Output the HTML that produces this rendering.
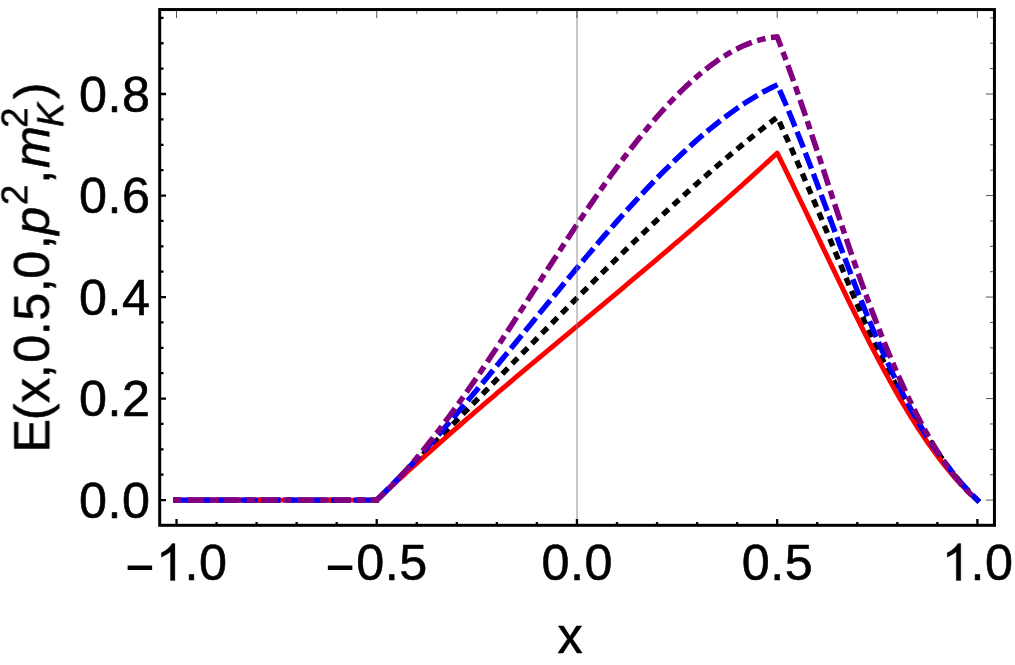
<!DOCTYPE html>
<html><head><meta charset="utf-8"><title>plot</title>
<style>html,body{margin:0;padding:0;background:#fff;overflow:hidden;}svg{display:block;}</style>
</head><body>
<svg width="1015" height="665" viewBox="0 0 1015 665">
<rect width="1015" height="665" fill="#fff"/>
<path d="M176.00 500.10 L376.70 500.10 L381.20 495.73 L385.70 491.35 L390.20 486.94 L394.70 482.53 L399.20 478.09 L403.70 473.65 L408.20 469.18 L412.70 464.71 L417.20 460.22 L421.70 455.73 L426.20 451.22 L430.70 446.69 L435.20 442.16 L439.70 437.62 L444.20 433.08 L448.70 428.52 L453.20 423.96 L457.70 419.39 L462.20 414.81 L466.70 410.23 L471.20 405.64 L475.70 401.05 L480.20 396.45 L484.70 391.86 L489.20 387.26 L493.70 382.65 L498.20 378.05 L502.70 373.45 L507.20 368.85 L511.70 364.24 L516.20 359.64 L520.70 355.05 L525.20 350.45 L529.70 345.86 L534.20 341.27 L538.70 336.69 L543.20 332.11 L547.70 327.54 L552.20 322.97 L556.70 318.42 L561.20 313.87 L565.70 309.32 L570.20 304.79 L574.70 300.27 L579.20 295.76 L583.70 291.26 L588.20 286.77 L592.70 282.29 L597.20 277.83 L601.70 273.38 L606.20 268.94 L610.70 264.52 L615.20 260.12 L619.70 255.73 L624.20 251.36 L628.70 247.00 L633.20 242.67 L637.70 238.35 L642.20 234.05 L646.70 229.77 L651.20 225.51 L655.70 221.28 L660.20 217.06 L664.70 212.87 L669.20 208.71 L673.70 204.56 L678.20 200.44 L682.70 196.35 L687.20 192.28 L691.70 188.23 L696.20 184.22 L700.70 180.23 L705.20 176.27 L709.70 172.34 L714.20 168.44 L718.70 164.57 L723.20 160.73 L727.70 156.92 L732.20 153.15 L736.70 149.40 L741.20 145.70 L745.70 142.02 L750.20 138.38 L754.70 134.77 L759.20 131.20 L763.70 127.67 L768.20 124.18 L772.70 120.72 L777.20 117.30 L780.10 123.55 L783.00 129.88 L785.90 136.27 L788.81 142.73 L791.71 149.25 L794.61 155.83 L797.51 162.46 L800.41 169.14 L803.31 175.87 L806.21 182.64 L809.12 189.45 L812.02 196.29 L814.92 203.17 L817.82 210.07 L820.72 217.00 L823.62 223.95 L826.52 230.91 L829.43 237.88 L832.33 244.87 L835.23 251.86 L838.13 258.85 L841.03 265.83 L843.93 272.81 L846.83 279.78 L849.74 286.74 L852.64 293.66 L855.54 300.54 L858.44 307.35 L861.34 314.08 L864.24 320.71 L867.14 327.21 L870.05 333.57 L872.95 339.79 L875.85 345.86 L878.75 351.79 L881.65 357.60 L884.55 363.29 L887.46 368.87 L890.36 374.35 L893.26 379.74 L896.16 385.05 L899.06 390.28 L901.96 395.43 L904.86 400.50 L907.77 405.50 L910.67 410.42 L913.57 415.25 L916.47 420.01 L919.37 424.70 L922.27 429.30 L925.17 433.82 L928.08 438.27 L930.98 442.64 L933.88 446.93 L936.78 451.14 L939.68 455.27 L942.58 459.32 L945.48 463.29 L948.39 467.18 L951.29 470.98 L954.19 474.69 L957.09 478.30 L959.99 481.79 L962.89 485.17 L965.79 488.43 L968.70 491.56 L971.60 494.55 L974.50 497.40 L977.40 500.10" fill="none" stroke="#000000" stroke-width="5.40" stroke-linecap="square" stroke-linejoin="round" stroke-miterlimit="10" stroke-dasharray="2.6 11.53"/>
<path d="M176.00 500.10 L376.70 500.10 L381.20 495.89 L385.70 491.70 L390.20 487.52 L394.70 483.37 L399.20 479.24 L403.70 475.12 L408.20 471.03 L412.70 466.95 L417.20 462.89 L421.70 458.84 L426.20 454.81 L430.70 450.80 L435.20 446.81 L439.70 442.82 L444.20 438.86 L448.70 434.90 L453.20 430.96 L457.70 427.04 L462.20 423.12 L466.70 419.22 L471.20 415.33 L475.70 411.45 L480.20 407.58 L484.70 403.73 L489.20 399.88 L493.70 396.04 L498.20 392.21 L502.70 388.39 L507.20 384.58 L511.70 380.77 L516.20 376.97 L520.70 373.18 L525.20 369.40 L529.70 365.62 L534.20 361.85 L538.70 358.08 L543.20 354.31 L547.70 350.55 L552.20 346.79 L556.70 343.04 L561.20 339.29 L565.70 335.54 L570.20 331.79 L574.70 328.04 L579.20 324.29 L583.70 320.55 L588.20 316.80 L592.70 313.05 L597.20 309.30 L601.70 305.55 L606.20 301.80 L610.70 298.05 L615.20 294.29 L619.70 290.53 L624.20 286.76 L628.70 282.99 L633.20 279.22 L637.70 275.44 L642.20 271.65 L646.70 267.86 L651.20 264.06 L655.70 260.26 L660.20 256.44 L664.70 252.62 L669.20 248.79 L673.70 244.95 L678.20 241.10 L682.70 237.24 L687.20 233.38 L691.70 229.50 L696.20 225.60 L700.70 221.70 L705.20 217.79 L709.70 213.86 L714.20 209.92 L718.70 205.96 L723.20 201.99 L727.70 198.01 L732.20 194.01 L736.70 190.00 L741.20 185.97 L745.70 181.92 L750.20 177.86 L754.70 173.78 L759.20 169.68 L763.70 165.56 L768.20 161.43 L772.70 157.27 L777.20 153.10 L780.10 158.91 L783.00 164.76 L785.90 170.65 L788.81 176.56 L791.71 182.51 L794.61 188.48 L797.51 194.47 L800.41 200.48 L803.31 206.51 L806.21 212.55 L809.12 218.61 L812.02 224.67 L814.92 230.74 L817.82 236.81 L820.72 242.89 L823.62 248.96 L826.52 255.03 L829.43 261.09 L832.33 267.13 L835.23 273.17 L838.13 279.19 L841.03 285.19 L843.93 291.17 L846.83 297.12 L849.74 303.05 L852.64 308.95 L855.54 314.82 L858.44 320.65 L861.34 326.44 L864.24 332.19 L867.14 337.90 L870.05 343.56 L872.95 349.17 L875.85 354.73 L878.75 360.24 L881.65 365.69 L884.55 371.07 L887.46 376.40 L890.36 381.66 L893.26 386.85 L896.16 391.97 L899.06 397.02 L901.96 401.98 L904.86 406.87 L907.77 411.68 L910.67 416.41 L913.57 421.06 L916.47 425.62 L919.37 430.10 L922.27 434.49 L925.17 438.80 L928.08 443.02 L930.98 447.15 L933.88 451.18 L936.78 455.13 L939.68 458.98 L942.58 462.74 L945.48 466.41 L948.39 469.97 L951.29 473.44 L954.19 476.82 L957.09 480.09 L959.99 483.26 L962.89 486.33 L965.79 489.29 L968.70 492.15 L971.60 494.91 L974.50 497.56 L977.40 500.10" fill="none" stroke="#ff0000" stroke-width="4.90" stroke-linecap="square" stroke-linejoin="round" stroke-miterlimit="10"/>
<path d="M176.00 500.10 L376.70 500.10 L381.20 495.73 L385.70 491.30 L390.20 486.79 L394.70 482.22 L399.20 477.59 L403.70 472.90 L408.20 468.14 L412.70 463.33 L417.20 458.47 L421.70 453.55 L426.20 448.59 L430.70 443.57 L435.20 438.51 L439.70 433.41 L444.20 428.26 L448.70 423.07 L453.20 417.85 L457.70 412.59 L462.20 407.30 L466.70 401.98 L471.20 396.63 L475.70 391.25 L480.20 385.85 L484.70 380.43 L489.20 374.99 L493.70 369.52 L498.20 364.05 L502.70 358.56 L507.20 353.06 L511.70 347.55 L516.20 342.03 L520.70 336.51 L525.20 330.99 L529.70 325.46 L534.20 319.94 L538.70 314.42 L543.20 308.91 L547.70 303.41 L552.20 297.92 L556.70 292.44 L561.20 286.97 L565.70 281.52 L570.20 276.10 L574.70 270.69 L579.20 265.31 L583.70 259.95 L588.20 254.62 L592.70 249.32 L597.20 244.05 L601.70 238.82 L606.20 233.62 L610.70 228.46 L615.20 223.35 L619.70 218.27 L624.20 213.25 L628.70 208.27 L633.20 203.34 L637.70 198.46 L642.20 193.63 L646.70 188.86 L651.20 184.15 L655.70 179.50 L660.20 174.92 L664.70 170.39 L669.20 165.94 L673.70 161.55 L678.20 157.24 L682.70 153.00 L687.20 148.83 L691.70 144.75 L696.20 140.74 L700.70 136.82 L705.20 132.98 L709.70 129.22 L714.20 125.56 L718.70 121.99 L723.20 118.51 L727.70 115.12 L732.20 111.83 L736.70 108.65 L741.20 105.56 L745.70 102.58 L750.20 99.70 L754.70 96.93 L759.20 94.28 L763.70 91.73 L768.20 89.30 L772.70 86.99 L777.20 84.80 L780.10 91.25 L783.00 97.85 L785.90 104.59 L788.81 111.47 L791.71 118.47 L794.61 125.59 L797.51 132.81 L800.41 140.13 L803.31 147.54 L806.21 155.04 L809.12 162.60 L812.02 170.23 L814.92 177.91 L817.82 185.64 L820.72 193.40 L823.62 201.20 L826.52 209.01 L829.43 216.84 L832.33 224.67 L835.23 232.49 L838.13 240.29 L841.03 248.06 L843.93 255.81 L846.83 263.50 L849.74 271.15 L852.64 278.73 L855.54 286.24 L858.44 293.66 L861.34 301.00 L864.24 308.24 L867.14 315.37 L870.05 322.40 L872.95 329.31 L875.85 336.11 L878.75 342.81 L881.65 349.39 L884.55 355.85 L887.46 362.20 L890.36 368.43 L893.26 374.55 L896.16 380.54 L899.06 386.42 L901.96 392.17 L904.86 397.80 L907.77 403.30 L910.67 408.68 L913.57 413.93 L916.47 419.06 L919.37 424.05 L922.27 428.91 L925.17 433.65 L928.08 438.25 L930.98 442.74 L933.88 447.10 L936.78 451.34 L939.68 455.47 L942.58 459.49 L945.48 463.40 L948.39 467.21 L951.29 470.91 L954.19 474.51 L957.09 478.02 L959.99 481.43 L962.89 484.75 L965.79 487.98 L968.70 491.13 L971.60 494.20 L974.50 497.19 L977.40 500.10" fill="none" stroke="#0000ff" stroke-width="5.40" stroke-linecap="square" stroke-linejoin="round" stroke-miterlimit="10" stroke-dasharray="11.7 10.85"/>
<path d="M176.00 500.10 L376.70 500.10 L381.20 495.95 L385.70 491.64 L390.20 487.17 L394.70 482.55 L399.20 477.79 L403.70 472.88 L408.20 467.84 L412.70 462.67 L417.20 457.37 L421.70 451.94 L426.20 446.40 L430.70 440.75 L435.20 434.98 L439.70 429.12 L444.20 423.15 L448.70 417.09 L453.20 410.94 L457.70 404.70 L462.20 398.38 L466.70 391.99 L471.20 385.52 L475.70 378.99 L480.20 372.39 L484.70 365.74 L489.20 359.04 L493.70 352.28 L498.20 345.49 L502.70 338.65 L507.20 331.78 L511.70 324.88 L516.20 317.96 L520.70 311.02 L525.20 304.06 L529.70 297.09 L534.20 290.11 L538.70 283.14 L543.20 276.17 L547.70 269.22 L552.20 262.27 L556.70 255.35 L561.20 248.46 L565.70 241.60 L570.20 234.77 L574.70 227.98 L579.20 221.24 L583.70 214.55 L588.20 207.92 L592.70 201.35 L597.20 194.84 L601.70 188.41 L606.20 182.05 L610.70 175.77 L615.20 169.58 L619.70 163.48 L624.20 157.47 L628.70 151.56 L633.20 145.74 L637.70 140.04 L642.20 134.44 L646.70 128.95 L651.20 123.58 L655.70 118.33 L660.20 113.21 L664.70 108.21 L669.20 103.35 L673.70 98.63 L678.20 94.04 L682.70 89.60 L687.20 85.31 L691.70 81.17 L696.20 77.19 L700.70 73.36 L705.20 69.71 L709.70 66.22 L714.20 62.90 L718.70 59.76 L723.20 56.80 L727.70 54.02 L732.20 51.44 L736.70 49.04 L741.20 46.84 L745.70 44.84 L750.20 43.05 L754.70 41.47 L759.20 40.09 L763.70 38.93 L768.20 38.00 L772.70 37.29 L777.20 36.80 L780.10 44.32 L783.00 52.01 L785.90 59.84 L788.81 67.81 L791.71 75.91 L794.61 84.13 L797.51 92.45 L800.41 100.87 L803.31 109.38 L806.21 117.97 L809.12 126.62 L812.02 135.33 L814.92 144.08 L817.82 152.87 L820.72 161.69 L823.62 170.52 L826.52 179.36 L829.43 188.19 L832.33 197.01 L835.23 205.80 L838.13 214.56 L841.03 223.27 L843.93 231.92 L846.83 240.51 L849.74 249.03 L852.64 257.45 L855.54 265.78 L858.44 274.01 L861.34 282.13 L864.24 290.15 L867.14 298.05 L870.05 305.84 L872.95 313.53 L875.85 321.09 L878.75 328.54 L881.65 335.88 L884.55 343.09 L887.46 350.18 L890.36 357.15 L893.26 363.99 L896.16 370.71 L899.06 377.30 L901.96 383.75 L904.86 390.08 L907.77 396.27 L910.67 402.33 L913.57 408.24 L916.47 414.02 L919.37 419.66 L922.27 425.16 L925.17 430.51 L928.08 435.71 L930.98 440.77 L933.88 445.68 L936.78 450.43 L939.68 455.03 L942.58 459.48 L945.48 463.77 L948.39 467.90 L951.29 471.87 L954.19 475.68 L957.09 479.33 L959.99 482.80 L962.89 486.12 L965.79 489.26 L968.70 492.23 L971.60 495.03 L974.50 497.65 L977.40 500.10" fill="none" stroke="#800080" stroke-width="5.50" stroke-linecap="square" stroke-linejoin="round" stroke-miterlimit="10" stroke-dasharray="3.1 11.08 11.4 11.08"/>
<line x1="577.05" y1="11.05" x2="577.05" y2="523.80" stroke="#808080" stroke-opacity="0.45" stroke-width="2"/>
<path d="M176.50 524.30 V519.10 M216.55 524.30 V521.90 M256.59 524.30 V521.90 M296.64 524.30 V521.90 M336.68 524.30 V521.90 M376.73 524.30 V519.10 M416.77 524.30 V521.90 M456.82 524.30 V521.90 M496.86 524.30 V521.90 M536.91 524.30 V521.90 M576.95 524.30 V519.10 M617.00 524.30 V521.90 M657.04 524.30 V521.90 M697.09 524.30 V521.90 M737.13 524.30 V521.90 M777.18 524.30 V519.10 M817.22 524.30 V521.90 M857.27 524.30 V521.90 M897.31 524.30 V521.90 M937.36 524.30 V521.90 M977.40 524.30 V519.10 M160.70 500.10 H166.00 M160.70 474.72 H163.50 M160.70 449.34 H163.50 M160.70 423.96 H163.50 M160.70 398.58 H166.00 M160.70 373.20 H163.50 M160.70 347.82 H163.50 M160.70 322.44 H163.50 M160.70 297.06 H166.00 M160.70 271.68 H163.50 M160.70 246.30 H163.50 M160.70 220.92 H163.50 M160.70 195.54 H166.00 M160.70 170.16 H163.50 M160.70 144.78 H163.50 M160.70 119.40 H163.50 M160.70 94.02 H166.00 M160.70 68.64 H163.50 M160.70 43.26 H163.50 M160.70 17.88 H163.50" fill="none" stroke="#000" stroke-width="2.3"/>
<path d="M176.50 11.05 V18.05 M216.55 11.05 V14.05 M256.59 11.05 V14.05 M296.64 11.05 V14.05 M336.68 11.05 V14.05 M376.73 11.05 V18.05 M416.77 11.05 V14.05 M456.82 11.05 V14.05 M496.86 11.05 V14.05 M536.91 11.05 V14.05 M576.95 11.05 V18.05 M617.00 11.05 V14.05 M657.04 11.05 V14.05 M697.09 11.05 V14.05 M737.13 11.05 V14.05 M777.18 11.05 V18.05 M817.22 11.05 V14.05 M857.27 11.05 V14.05 M897.31 11.05 V14.05 M937.36 11.05 V14.05 M977.40 11.05 V18.05 M992.95 500.10 H985.95 M992.95 474.72 H989.95 M992.95 449.34 H989.95 M992.95 423.96 H989.95 M992.95 398.58 H985.95 M992.95 373.20 H989.95 M992.95 347.82 H989.95 M992.95 322.44 H989.95 M992.95 297.06 H985.95 M992.95 271.68 H989.95 M992.95 246.30 H989.95 M992.95 220.92 H989.95 M992.95 195.54 H985.95 M992.95 170.16 H989.95 M992.95 144.78 H989.95 M992.95 119.40 H989.95 M992.95 94.02 H985.95 M992.95 68.64 H989.95 M992.95 43.26 H989.95 M992.95 17.88 H989.95" fill="none" stroke="#000" stroke-opacity="0.75" stroke-width="0.9"/>
<rect x="159.70" y="9.55" width="834.75" height="515.75" fill="none" stroke="#000" stroke-width="3.00"/>
<g font-family="'Liberation Sans', sans-serif" font-size="50.3" fill="#000" stroke="#000" stroke-width="0.60" stroke-linejoin="round" opacity="0.999">
<rect x="127.62" y="565.5" width="24.5" height="4.5" stroke="none"/>
<path transform="translate(155.75 580.60) scale(0.02515 -0.02515)" stroke-width="11.9" d="M763 0H583V1147Q518 1085 412.5 1023T223 930V1104Q374 1175 487 1276T647 1472H763Z"/>
<text x="191.54" y="580.40" text-anchor="middle">.</text>
<text x="213.01" y="580.40" text-anchor="middle">0</text>
<rect x="327.84" y="565.5" width="24.5" height="4.5" stroke="none"/>
<text x="370.29" y="580.40" text-anchor="middle">0</text>
<text x="391.76" y="580.40" text-anchor="middle">.</text>
<text x="413.24" y="580.40" text-anchor="middle">5</text>
<text x="555.48" y="580.40" text-anchor="middle">0</text>
<text x="576.95" y="580.40" text-anchor="middle">.</text>
<text x="598.42" y="580.40" text-anchor="middle">0</text>
<text x="755.70" y="580.40" text-anchor="middle">0</text>
<text x="777.18" y="580.40" text-anchor="middle">.</text>
<text x="798.65" y="580.40" text-anchor="middle">5</text>
<path transform="translate(941.61 580.60) scale(0.02515 -0.02515)" stroke-width="11.9" d="M763 0H583V1147Q518 1085 412.5 1023T223 930V1104Q374 1175 487 1276T647 1472H763Z"/>
<text x="977.40" y="580.40" text-anchor="middle">.</text>
<text x="998.87" y="580.40" text-anchor="middle">0</text>
<text x="93.03" y="517.60" text-anchor="middle">0</text>
<text x="114.51" y="517.60" text-anchor="middle">.</text>
<text x="135.98" y="517.60" text-anchor="middle">0</text>
<text x="93.03" y="416.08" text-anchor="middle">0</text>
<text x="114.51" y="416.08" text-anchor="middle">.</text>
<text x="135.98" y="416.08" text-anchor="middle">2</text>
<text x="93.03" y="314.56" text-anchor="middle">0</text>
<text x="114.51" y="314.56" text-anchor="middle">.</text>
<text x="135.98" y="314.56" text-anchor="middle">4</text>
<text x="93.03" y="213.04" text-anchor="middle">0</text>
<text x="114.51" y="213.04" text-anchor="middle">.</text>
<text x="135.98" y="213.04" text-anchor="middle">6</text>
<text x="93.03" y="111.52" text-anchor="middle">0</text>
<text x="114.51" y="111.52" text-anchor="middle">.</text>
<text x="135.98" y="111.52" text-anchor="middle">8</text>
<text x="570.0" y="652.5" text-anchor="middle">x</text>
<g transform="translate(49.3 449) rotate(-90)">
<text x="-3.60" y="0.00">E</text>
<text x="28.70" y="0.00">(</text>
<text x="45.90" y="0.00">x</text>
<text x="70.77" y="0.00">,</text>
<text x="86.13" y="0.00">0</text>
<text x="113.77" y="0.00">.</text>
<text x="128.33" y="0.00">5</text>
<text x="156.77" y="0.00">,</text>
<text x="170.33" y="0.00">0</text>
<text x="199.87" y="0.00">,</text>
<text x="214.33" y="0.00" font-style="italic">p</text>
<text x="244.04" y="-22.00" font-size="36.3">2</text>
<text x="265.27" y="0.00">,</text>
<text x="281.10" y="0.00" font-style="italic">m</text>
<text x="321.24" y="-22.00" font-size="36.3">2</text>
<text x="321.89" y="14.40" font-size="36.3" font-style="italic">K</text>
<text x="349.80" y="0.00">)</text>
</g>
</g>
</svg>
</body></html>
